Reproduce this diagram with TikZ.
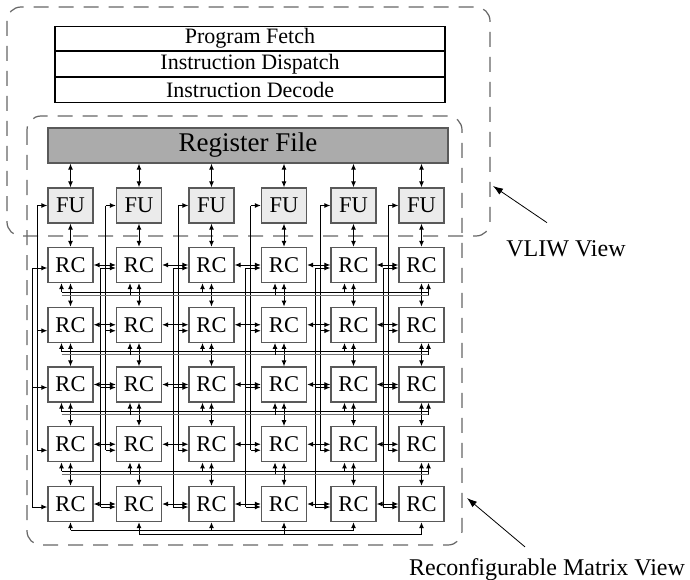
\documentclass[tikz,border=0pt]{standalone}
\usepackage{fontspec}
\setmainfont{Liberation Serif}
\usetikzlibrary{positioning,arrows.meta}

\tikzset{
  stage/.style={draw,line width=1.1pt,minimum width=390pt,minimum height=24.67pt,inner sep=0pt,font=\fontsize{22}{24}\selectfont},
  unit/.style={draw=black!65,line width=1.3pt,minimum width=45pt,minimum height=35pt,inner sep=0pt,font=\fontsize{22.5}{24}\selectfont},
  fu/.style={unit,fill=black!8},
  rc/.style={unit,fill=white},
  dbl/.style={<->,line width=1pt},
  feed/.style={->,line width=1pt},
  wire/.style={line width=1pt},
  view/.style={draw=black!60,line width=1.2pt,dash pattern=on 15pt off 10pt,rounded corners=14pt},
  pointer/.style={-{Latex[length=10pt,width=7pt]},line width=0.8pt},
  lbl/.style={inner sep=1pt,font=\fontsize{24}{26}\selectfont}
}

\begin{document}
\begin{tikzpicture}[x=1pt,y=-1pt,>={Latex[length=6pt,width=5pt]}]
\useasboundingbox (0,0) rectangle (690,580);

% the two views
\draw[view] (7,7) rectangle (490,236);
\draw[view] (27,116) rectangle (462,545);

% pipeline
\node[stage] (pf) at (250,38.5) {Program Fetch};
\node[stage,below=0pt of pf] (disp) {Instruction Dispatch};
\node[stage,below=0pt of disp] (dec) {Instruction Decode};

\node[unit,fill=black!33,minimum width=400pt,font=\fontsize{27}{30}\selectfont] (rf) at (248,145.5) {Register File};

% FU row and RC array
\foreach \c/\x in {1/70.5,2/139,3/211.5,4/284,5/353.5,6/421.5} {
  \node[fu] (fu-\c) at (\x,205.5) {FU};
  \foreach \r in {1,...,5}
    \node[rc] (rc-\r-\c) at (\x,{265+59.75*(\r-1)}) {RC};
}

% vertical links
\foreach \c in {1,...,6} {
  \draw[dbl] (fu-\c.north |- rf.south) -- (fu-\c.north);
  \draw[dbl] (fu-\c) -- (rc-1-\c);
  \foreach \r [count=\n from 2] in {1,...,4}
    \draw[dbl] (rc-\r-\c) -- (rc-\n-\c);
}

% horizontal links
\foreach \r in {1,...,5}
  \foreach \c [count=\n from 2] in {1,...,5}
    \draw[dbl] (rc-\r-\c) -- (rc-\r-\n);

% feed lines left of each column
\foreach \c in {1,...,6} {
  \draw[wire] ([xshift=-10pt]fu-\c.west) -- ([xshift=-10pt,yshift=-6pt]rc-4-\c.west);
  \draw[feed] ([xshift=-10pt]fu-\c.west) -- (fu-\c.west);
  \foreach \r in {2,4}
    \draw[feed] ([xshift=-10pt,yshift=-6pt]rc-\r-\c.west) -- ([yshift=-6pt]rc-\r-\c.west);
  \draw[wire] ([xshift=-15pt,yshift=-3pt]rc-1-\c.west) -- ([xshift=-15pt,yshift=-3pt]rc-5-\c.west);
  \foreach \r in {1,3,5}
    \draw[feed] ([xshift=-15pt,yshift=-3pt]rc-\r-\c.west) -- ([yshift=-3pt]rc-\r-\c.west);
}

% row buses
\foreach \r in {1,...,4} {
  \draw[wire] ([xshift=-9pt,yshift=-9pt]rc-\r-1.south) -- ([xshift=7pt,yshift=-9pt]rc-\r-6.south);
  \draw[wire,black!55] ([xshift=-9pt,yshift=-12pt]rc-\r-1.south) -- ([xshift=7pt,yshift=-12pt]rc-\r-6.south);
  \foreach \c in {1,3,5}
    \draw[feed] ([xshift=-9pt,yshift=-9pt]rc-\r-\c.south) -- ([xshift=-9pt]rc-\r-\c.south);
  \foreach \c in {2,4}
    \draw[feed] ([xshift=-9pt,yshift=-12pt]rc-\r-\c.south) -- ([xshift=-9pt]rc-\r-\c.south);
  \draw[feed] ([xshift=7pt,yshift=-12pt]rc-\r-6.south) -- ([xshift=7pt]rc-\r-6.south);
}
\draw[wire] ([yshift=-8pt]rc-5-1.south) -- ([yshift=-8pt]rc-5-5.south);
\draw[wire] ([yshift=-12pt]rc-5-2.south) -- ([yshift=-12pt]rc-5-6.south);
\foreach \c in {1,3,5}
  \draw[feed] ([yshift=-8pt]rc-5-\c.south) -- (rc-5-\c.south);
\foreach \c in {2,4,6}
  \draw[feed] ([yshift=-12pt]rc-5-\c.south) -- (rc-5-\c.south);

% labels
\node[lbl] (vlab) at (566,249) {VLIW View};
\coordinate (vtip) at (493,186);
\draw[pointer] ([xshift=-19pt,yshift=17pt]vlab.north) -- (vtip);
\node[lbl,anchor=base] (rlab) at (547,575) {Reconfigurable Matrix View};
\coordinate (rtip) at (467,498);
\draw[pointer] ([xshift=-22pt,yshift=10pt]rlab.north) -- (rtip);
\end{tikzpicture}
\end{document}
